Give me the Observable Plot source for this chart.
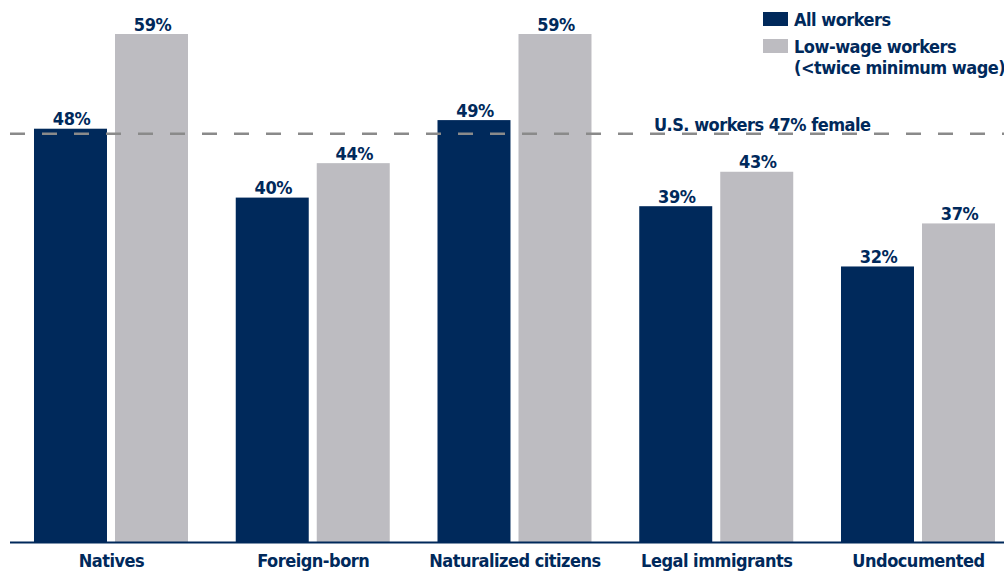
<!DOCTYPE html>
<html>
<head>
<meta charset="utf-8">
<script src="https://cdn.jsdelivr.net/npm/d3@7"></script>
<script src="https://cdn.jsdelivr.net/npm/@observablehq/plot@0.6"></script>
<style>
  html, body { margin: 0; padding: 0; background: #fff; }
  #wrap { position: relative; width: 1004px; height: 571px; overflow: hidden; font-family: "Liberation Sans Narrow", "DejaVu Sans Condensed", "Roboto Condensed", sans-serif; font-weight: bold; color: #00295b; }
  #legend { position: absolute; left: 763px; top: 9px; font-size: 18px; line-height: 21px; letter-spacing: -0.5px; white-space: nowrap; }
  .item { display: flex; align-items: flex-start; margin-bottom: 6px; }
  .sw { width: 25px; height: 14px; margin-top: 3px; margin-right: 6px; flex: none; }
  #chart svg text { letter-spacing: -0.5px; }
</style>
</head>
<body>
<div id="wrap">
  <div id="chart"></div>
  <div id="legend"></div>
</div>
<script>
const categories = ["Natives", "Foreign-born", "Naturalized citizens", "Legal immigrants", "Undocumented"];
const allWorkers = [48, 40, 49, 39, 32];
const lowWage = [59, 44, 59, 43, 37];
const seriesNames = ["All workers", "Low-wage workers\n(<twice minimum wage)"];
const usFemaleShare = 47;
const referenceLabel = "U.S. workers 47% female";

const navy = "#00295b";
const gray = "#bdbcc1";
const font = '"Liberation Sans Narrow", "DejaVu Sans Condensed", "Roboto Condensed", sans-serif';

const rowsAll = categories.map((c, i) => ({category: c, value: allWorkers[i]}));
const rowsLow = categories.map((c, i) => ({category: c, value: lowWage[i]}));

const chart = Plot.plot({
  width: 1004,
  height: 571,
  marginLeft: 10,
  marginRight: 0,
  marginTop: 34,
  marginBottom: 29,
  style: {fontFamily: font, fontWeight: "bold", color: navy, background: "white"},
  x: {domain: categories, paddingInner: 0.2367, paddingOuter: 0.0818, align: 0.727, round: false, label: null},
  y: {domain: [0, 59], axis: null},
  marks: [
    Plot.barY(rowsAll, {x: "category", y: "value", fill: navy, insetRight: 81}),
    Plot.barY(rowsLow, {x: "category", y: "value", fill: gray, insetLeft: 81}),
    Plot.text(rowsAll, {x: "category", y: "value", text: d => d.value + "%", dx: -40, dy: -4, lineAnchor: "bottom", fill: navy, fontSize: 18, fontWeight: "bold"}),
    Plot.text(rowsLow, {x: "category", y: "value", text: d => d.value + "%", dx: 41, dy: -4, lineAnchor: "bottom", fill: navy, fontSize: 18, fontWeight: "bold"}),
    Plot.ruleY([usFemaleShare], {stroke: "#8a8a8a", strokeWidth: 2.5, strokeDasharray: "15,17", dy: -4}),
    Plot.text([referenceLabel], {y: usFemaleShare, frameAnchor: "right", textAnchor: "end", lineAnchor: "bottom", dx: -134, dy: -7, fill: navy, fontSize: 18, fontWeight: "bold"}),
    Plot.ruleY([0], {stroke: navy, strokeWidth: 2}),
    Plot.axisX({tickSize: 0, tickPadding: 12, fontSize: 18, fontWeight: "bold", fill: navy, label: null})
  ]
});
document.getElementById("chart").appendChild(chart);

const legend = document.getElementById("legend");
[navy, gray].forEach((col, i) => {
  const item = document.createElement("div");
  item.className = "item";
  const sw = document.createElement("div");
  sw.className = "sw";
  sw.style.background = col;
  const txt = document.createElement("div");
  seriesNames[i].split("\n").forEach((line, j) => {
    if (j > 0) txt.appendChild(document.createElement("br"));
    txt.appendChild(document.createTextNode(line));
  });
  item.appendChild(sw);
  item.appendChild(txt);
  legend.appendChild(item);
});
</script>
</body>
</html>
